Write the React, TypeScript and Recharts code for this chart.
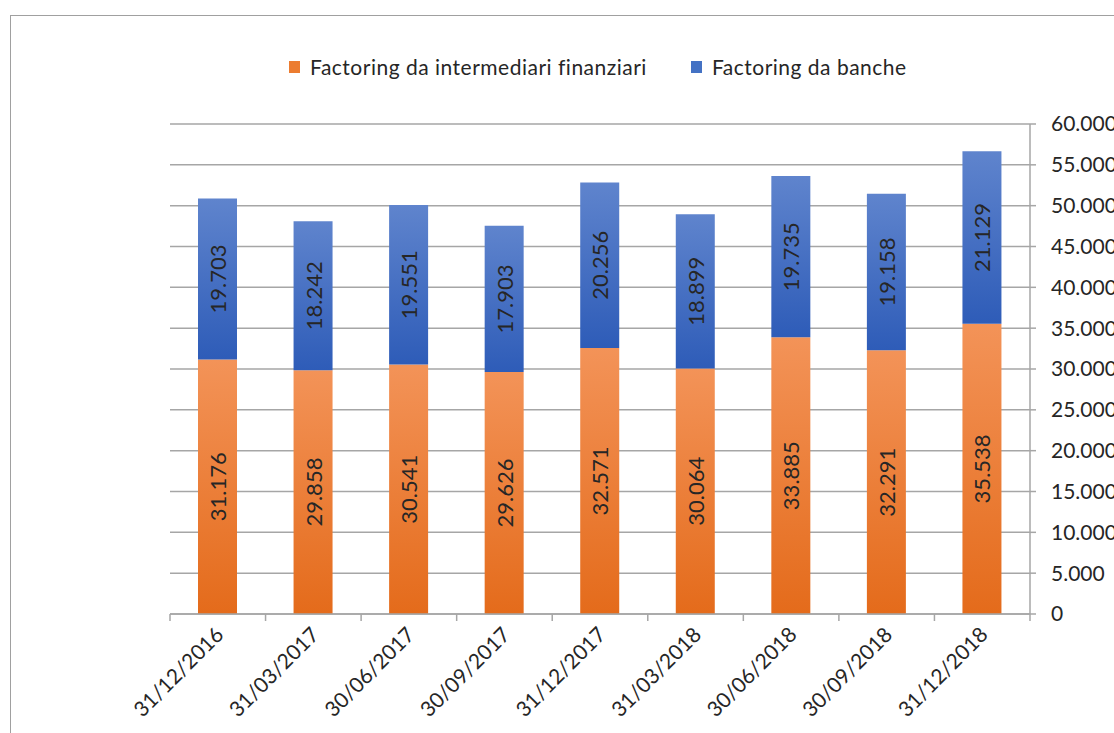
import { BarChart, Bar, XAxis, YAxis, CartesianGrid, LabelList } from "recharts";

const dates = [
  "31/12/2016",
  "31/03/2017",
  "30/06/2017",
  "30/09/2017",
  "31/12/2017",
  "31/03/2018",
  "30/06/2018",
  "30/09/2018",
  "31/12/2018",
];
const intermediari = [31176, 29858, 30541, 29626, 32571, 30064, 33885, 32291, 35538];
const banche = [19703, 18242, 19551, 17903, 20256, 18899, 19735, 19158, 21129];
const yTicks = [0, 5000, 10000, 15000, 20000, 25000, 30000, 35000, 40000, 45000, 50000, 55000, 60000];

const data = dates.map((d, i) => ({ date: d, intermediari: intermediari[i], banche: banche[i] }));

const W = 1114;
const H = 733;
const PLOT_LEFT = 170;
const PLOT_RIGHT = 1030;
const BAND = (PLOT_RIGHT - PLOT_LEFT) / dates.length;
const GREY = "#a6a6a6";
const FONT = "Lato, 'Open Sans', sans-serif";
const TEXT = "#262626";

const fmt = (v: number) => String(v).replace(/\B(?=(\d{3})+(?!\d))/g, ".");

// value inside each segment, rotated to read bottom-up
const SegmentLabel = (props: any) => {
  const { x, y, width, height, value } = props;
  const cx = x + width / 2;
  const cy = y + height / 2;
  return (
    <text
      x={cx}
      y={cy}
      fill={TEXT}
      fontSize={22}
      fontFamily={FONT}
      textAnchor="middle"
      dominantBaseline="central"
      transform={`rotate(-90, ${cx}, ${cy})`}
    >
      {fmt(value)}
    </text>
  );
};

// date label at 45 degrees plus tick marks on the category boundaries
const DateTick = (props: any) => {
  const { x, y, payload, index } = props;
  const left = x - BAND / 2;
  const right = x + BAND / 2;
  return (
    <g>
      <line x1={left} y1={y} x2={left} y2={y + 7} stroke={GREY} strokeWidth={1.5} />
      {index === dates.length - 1 && (
        <line x1={right} y1={y} x2={right} y2={y + 7} stroke={GREY} strokeWidth={1.5} />
      )}
      <text
        x={x + 7}
        y={y + 22}
        fill={TEXT}
        fontSize={21}
        fontFamily={FONT}
        textAnchor="end"
        transform={`rotate(-45, ${x + 7}, ${y + 22})`}
      >
        {payload.value}
      </text>
    </g>
  );
};

const LegendItem = ({ color, label }: { color: string; label: string }) => (
  <div style={{ display: "flex", alignItems: "center", marginRight: 44 }}>
    <div style={{ width: 11, height: 12, background: color, marginRight: 10 }} />
    <span>{label}</span>
  </div>
);

export default function App() {
  return (
    <div
      style={{
        position: "absolute",
        left: 0,
        top: 0,
        width: W,
        height: H,
        overflow: "hidden",
        background: "#fff",
        fontFamily: FONT,
      }}
    >
      <div
        style={{
          position: "absolute",
          left: 10,
          top: 15,
          width: W + 20,
          height: H + 20,
          borderLeft: "1.5px solid #a0a0a0",
          borderTop: "1.5px solid #a0a0a0",
        }}
      />
      <div
        style={{
          position: "absolute",
          top: 54,
          left: 289,
          display: "flex",
          fontSize: 21,
          letterSpacing: 0.5,
          color: TEXT,
        }}
      >
        <LegendItem color="#ec7c30" label="Factoring da intermediari finanziari" />
        <LegendItem color="#4472c4" label="Factoring da banche" />
      </div>
      <BarChart
        width={W}
        height={H}
        data={data}
        margin={{ top: 124, right: 0, bottom: 0, left: PLOT_LEFT }}
        style={{ position: "absolute", left: 0, top: 0 }}
      >
        <defs>
          <linearGradient id="gradOrange" x1="0" y1="0" x2="0" y2="1">
            <stop offset="0%" stopColor="#f39358" />
            <stop offset="100%" stopColor="#e46b1b" />
          </linearGradient>
          <linearGradient id="gradBlue" x1="0" y1="0" x2="0" y2="1">
            <stop offset="0%" stopColor="#5f84cd" />
            <stop offset="100%" stopColor="#2e5cb8" />
          </linearGradient>
        </defs>
        <CartesianGrid vertical={false} stroke={GREY} strokeWidth={1.5} />
        <XAxis
          dataKey="date"
          height={119}
          axisLine={{ stroke: GREY, strokeWidth: 1.5 }}
          tickLine={false}
          tickSize={0}
          tickMargin={0}
          interval={0}
          tick={<DateTick />}
        />
        <YAxis
          orientation="right"
          width={W - PLOT_RIGHT}
          domain={[0, 60000]}
          ticks={yTicks}
          interval={0}
          tickFormatter={fmt}
          axisLine={{ stroke: GREY, strokeWidth: 1.5 }}
          tickLine={{ stroke: GREY, strokeWidth: 1.5 }}
          tickSize={6}
          tickMargin={15}
          tick={{ fill: TEXT, fontSize: 21, fontFamily: FONT }}
        />
        <Bar dataKey="intermediari" stackId="a" barSize={39} fill="url(#gradOrange)" isAnimationActive={false}>
          <LabelList dataKey="intermediari" content={<SegmentLabel />} />
        </Bar>
        <Bar dataKey="banche" stackId="a" barSize={39} fill="url(#gradBlue)" isAnimationActive={false}>
          <LabelList dataKey="banche" content={<SegmentLabel />} />
        </Bar>
      </BarChart>
    </div>
  );
}
